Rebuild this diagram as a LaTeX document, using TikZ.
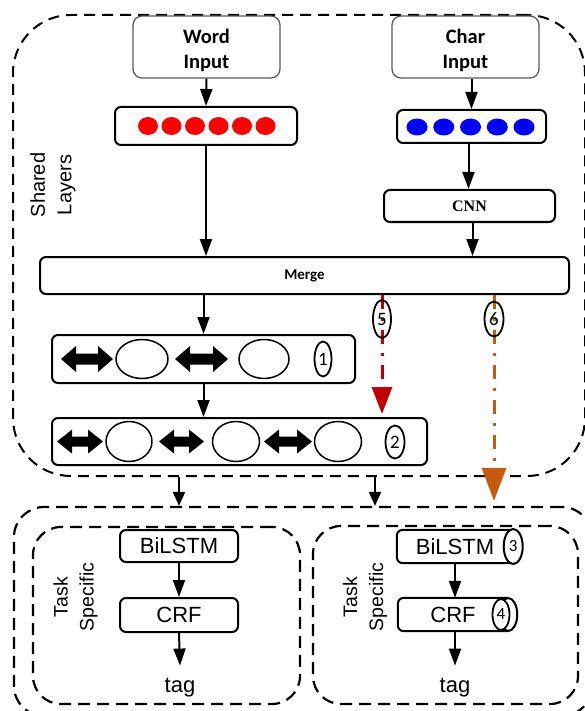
\documentclass[tikz,border=0pt]{standalone}
\usepackage{fontspec}
\setmainfont{Liberation Sans}
\newfontfamily\cali{Carlito}
\newfontfamily\lserif{Liberation Serif}
\usetikzlibrary{arrows.meta,shapes.geometric}
\definecolor{dred}{RGB}{192,0,0}
\definecolor{dorange}{RGB}{197,90,17}
\newcommand\dblarr[5]{%
  \fill (#1,#3) -- (#1+15,#3-#4) -- (#1+15,#3-#5) -- (#2-15,#3-#5) -- (#2-15,#3-#4) -- (#2,#3)
     -- (#2-15,#3+#4) -- (#2-15,#3+#5) -- (#1+15,#3+#5) -- (#1+15,#3+#4) -- cycle;}
\tikzset{
  inbox/.style={draw=black!65, line width=1.3pt, rounded corners=9pt, minimum width=147pt,
    minimum height=62pt, inner sep=0pt},
  intext/.style={align=center, inner sep=0pt, font=\cali\bfseries\fontsize{20.5}{25}\selectfont},
  box/.style={draw, line width=2pt, rounded corners=6pt, inner sep=0pt},
  arr/.style={line width=2pt, -{Triangle[width=12pt,length=17pt]}},
  sarr/.style={line width=2pt, -{Triangle[width=12pt,length=14pt]}},
  shared/.style={draw, line width=2pt, dash pattern=on 11pt off 7pt, rounded corners=58pt, inner sep=0pt},
  group/.style={draw, line width=2.2pt, dash pattern=on 12pt off 7pt, rounded corners=30pt, inner sep=0pt},
  cell/.style={draw, ellipse, line width=1.5pt, inner sep=0pt},
  num/.style={draw, ellipse, line width=1.8pt, inner sep=0pt, font=\cali\fontsize{19}{19}\selectfont},
  lbl/.style={font=\fontsize{22}{22}\selectfont, inner sep=0pt},
  side/.style={rotate=90, align=center, inner sep=0pt},
  redarr/.style={line width=3pt, dred, dash pattern=on 14pt off 9pt on 3pt off 9pt,
    -{Triangle[width=20pt,length=27pt]}},
  orarr/.style={line width=3pt, dorange, dash pattern=on 14pt off 9pt on 3pt off 9pt,
    -{Triangle[width=24pt,length=33pt]}},
}
\begin{document}
\begin{tikzpicture}[x=1pt,y=-1pt,line join=round]
\useasboundingbox (0,0) rectangle (585,711);

% ---------- shared layers ----------
\node[shared, minimum width=572pt, minimum height=461pt] (shared) at (299,245.5) {};
\node[side, font=\fontsize{20}{26.5}\selectfont] (sl) at (53,185) {Shared\\Layers};

\node[inbox] (wordin) at (206.5,47) {};
\node[intext] (wordtxt) at (206.5,50.5) {Word\\Input};
\node[inbox] (charin) at (465.5,47) {};
\node[intext] (chartxt) at (465.5,50.5) {Char\\Input};

\node[box, minimum width=182pt, minimum height=38pt] (redbox) at (206,126) {};
\foreach \i in {0,...,5} \fill[red] (148+23.5*\i,126) ellipse [x radius=10, y radius=9];
\node[box, minimum width=149pt, minimum height=33pt] (bluebox) at (471.5,126.5) {};
\foreach \i in {0,...,4} \fill[blue] (417+26.75*\i,127) ellipse [x radius=10.5, y radius=8.5];

\node[box, minimum width=171pt, minimum height=32pt, font=\lserif\bfseries\fontsize{16}{16}\selectfont] (cnn) at (469.5,206) {CNN};
\node[box, minimum width=529pt, minimum height=37pt, font=\cali\bfseries\fontsize{15}{15}\selectfont] (merge) at (304.5,275.5) {Merge};

\node[box, minimum width=303pt, minimum height=48pt] (lstm1) at (203.5,359) {};
\node[box, minimum width=375pt, minimum height=47pt] (lstm2) at (239.5,441.5) {};

% LSTM row 1
\dblarr{61}{113}{359}{13}{5.5}
\node[cell, minimum width=52pt, minimum height=39pt] (c11) at (142,359) {};
\dblarr{175}{228}{359}{13}{5.5}
\node[cell, minimum width=50pt, minimum height=39pt] (c12) at (264,359) {};
\node[num, minimum width=17pt, minimum height=35pt] (n1) at (323,359) {1};

% LSTM row 2
\dblarr{57}{103}{441.5}{12}{5}
\node[cell, minimum width=46pt, minimum height=40pt] (c21) at (129,441.5) {};
\dblarr{159}{204}{441.5}{12}{5}
\node[cell, minimum width=47pt, minimum height=40pt] (c22) at (236,441.5) {};
\dblarr{264}{312}{441.5}{12}{5}
\node[cell, minimum width=47pt, minimum height=40pt] (c23) at (338,441.5) {};
\node[num, minimum width=19pt, minimum height=33pt] (n2) at (395,442) {2};

% arrows in shared part
\draw[arr] (wordin.south) -- (redbox.north);
\draw[arr] (redbox.south) -- (redbox.south |- merge.north);
\draw[arr] ([xshift=6pt]charin.south) -- ([xshift=6pt]charin.south |- bluebox.north);
\draw[arr] ([xshift=-3pt]bluebox.south) -- ([xshift=-3pt]bluebox.south |- cnn.north);
\draw[arr] ([xshift=3pt]cnn.south) -- ([xshift=3pt]cnn.south |- merge.north);
\draw[arr] (merge.south -| lstm1.north) -- (lstm1.north);
\draw[arr] (lstm1.south) -- (lstm1.south |- lstm2.north);

% dash-dot connectors
\coordinate (r5) at (382,0);
\coordinate (o6) at (494,0);
\draw[redarr, shorten >=3pt] (r5 |- merge.south) -- (r5 |- lstm2.north);
\node[num, minimum width=18pt, minimum height=38pt] (n5) at (382,319) {5};

% ---------- task specific ----------
\node[group, minimum width=578pt, minimum height=209pt] (lower) at (303,611.5) {};
\draw[orarr] (o6 |- merge.south) -- ([yshift=5pt]o6 |- lower.north);
\node[num, minimum width=19pt, minimum height=35pt] (n6) at (494,319) {6};

\node[group, rounded corners=28pt, minimum width=267pt, minimum height=177pt] (task1) at (166.5,615.5) {};
\node[group, rounded corners=28pt, minimum width=265pt, minimum height=178pt] (task2) at (445.5,615) {};

\coordinate (a2) at (375,0);
\node[box, lbl, minimum width=118pt, minimum height=32pt] (bil1) at (179,546) {BiLSTM};
\draw[sarr] (bil1.north |- shared.south) -- (bil1.north |- lower.north);
\draw[sarr] (a2 |- shared.south) -- (a2 |- lower.north);

\node[side, font=\fontsize{19.5}{26}\selectfont] (ts1) at (75.5,597) {Task\\Specific};
\node[box, lbl, minimum width=118pt, minimum height=34pt] (crf1) at (179,615) {CRF};
\node[lbl, anchor=base] (tag1) at (180,692) {tag};
\draw[arr] (bil1.south) -- (crf1.north);
\draw[arr] (crf1.south) -- ([yshift=12pt]tag1.north);

% right task: cylinders
\node[side, font=\fontsize{19.5}{26}\selectfont] (ts2) at (365,597) {Task\\Specific};
\node[lbl, minimum width=116pt, minimum height=33pt] (bil2) at (455,546.5) {BiLSTM};
\draw[line width=2pt, rounded corners=6pt] (bil2.north east) -- (bil2.north west) -- (bil2.south west) -- (bil2.south east);
\node[num, fill=white, line width=2pt, minimum width=19pt, minimum height=35pt, font=\cali\fontsize{17}{17}\selectfont] (n3) at (bil2.east) {3};

\node[lbl, minimum width=110pt, minimum height=33pt] (crf2) at (453,614.5) {CRF};
\draw[line width=2pt, rounded corners=6pt] (crf2.north east) -- (crf2.north west) -- (crf2.south west) -- (crf2.south east);
\draw[line width=2pt, fill=white] (crf2.east) ellipse [x radius=9, y radius=16.5];
\node[num, fill=white, minimum width=17pt, minimum height=31pt, font=\cali\fontsize{17}{17}\selectfont] (n4) at (501,614.5) {4};

\node[lbl, anchor=base] (tag2) at (455,692) {tag};
\draw[arr] (bil2.south) -- (bil2.south |- crf2.north);
\draw[arr] (bil2.south |- crf2.south) -- ([yshift=12pt]tag2.north);
\end{tikzpicture}
\end{document}
